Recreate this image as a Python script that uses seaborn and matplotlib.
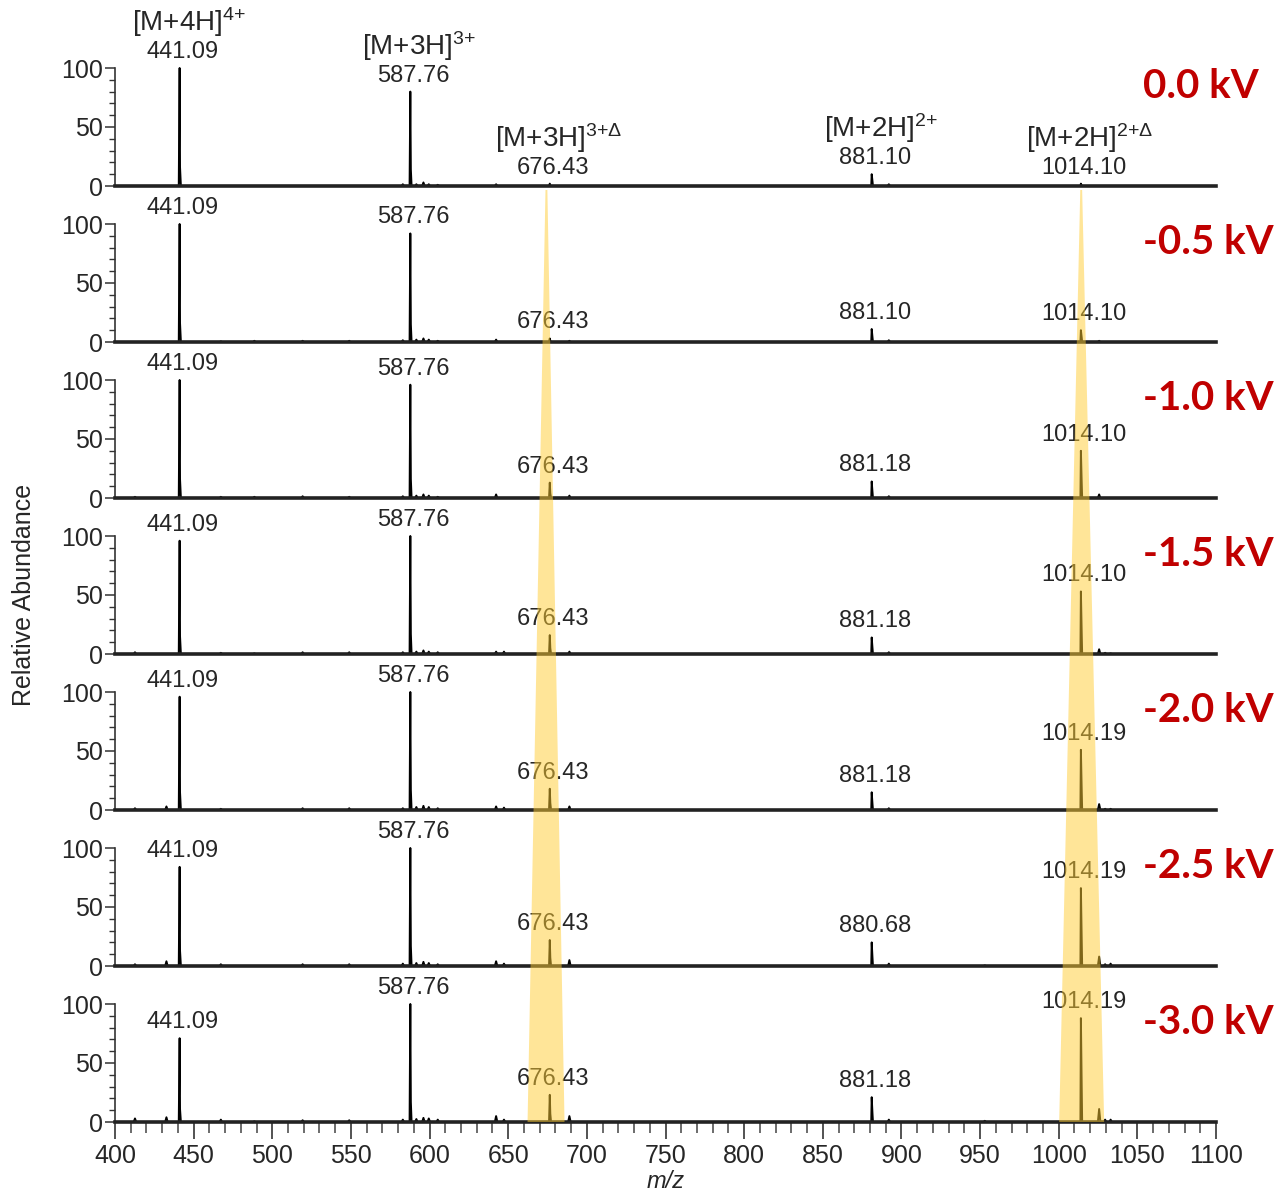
import numpy as np
import pandas as pd
import seaborn as sns
import matplotlib.pyplot as plt
from matplotlib.patches import Polygon
from matplotlib.transforms import blended_transform_factory

# spray voltages, one panel each (top to bottom)
voltages = ["0.0 kV", "-0.5 kV", "-1.0 kV", "-1.5 kV", "-2.0 kV", "-2.5 kV", "-3.0 kV"]

# main peaks (m/z) and their relative abundance in each panel
main_mz = [441.09, 587.76, 676.43, 881.10, 1014.10]
h_441 = [100, 100, 100, 96, 96, 84, 71]
h_587 = [80, 92, 96, 100, 100, 100, 100]
h_676 = [2, 3, 13, 16, 18, 22, 23]
h_881 = [10, 11, 14, 14, 15, 20, 21]
h_1014 = [2, 10, 40, 53, 51, 66, 88]

# isotope shoulders next to each main peak
iso_mz = [441.34, 588.09, 676.76, 881.60, 1014.60]
iso_441 = [16, 16, 16, 15, 15, 13, 11]
iso_587 = [14, 15, 16, 17, 17, 17, 17]
iso_676 = [0.5, 1, 4, 5, 6, 7, 7]
iso_881 = [4, 4, 5, 5, 5, 7, 7]
iso_1014 = [0.5, 4, 14, 19, 18, 24, 32]

# small background peaks
minor_mz = [412.7, 432.7, 467.3, 488.6, 519.3, 548.9, 583.0, 591.6, 596.1, 599.5,
            605.2, 642.3, 647.3, 688.9, 892.0, 953.0, 1025.7, 1029.5, 1033.0]
minor_h = [
    [0, 0, 0, 0, 0, 0, 1.5, 1.5, 3, 1.5, 1, 1.5, 0, 0, 1.5, 0, 0, 0, 0],
    [0, 0, 0.5, 1, 1, 1, 1.5, 2, 3, 2, 1, 2, 0, 1, 1.5, 0, 1, 0, 0],
    [1, 0, 1, 1, 1.5, 1, 1.5, 2, 3, 2, 1, 3, 0, 2, 1.5, 0, 3, 0, 0],
    [1.5, 0, 1, 0.5, 1.5, 1.5, 1.5, 2, 3, 2, 1.5, 2, 2, 2, 1.5, 0, 4, 1, 0.5],
    [1.5, 3, 1, 0, 1.5, 1.5, 1.5, 2.5, 3.5, 2.5, 1.5, 3, 2, 3, 1.5, 0, 5, 1, 1],
    [1.5, 4, 1.5, 0, 1.5, 1.5, 2, 2.5, 3.5, 2.5, 1.5, 4, 2, 5, 2, 0.5, 8, 1.5, 2],
    [3, 4, 2, 0.5, 1.5, 1.5, 2, 2.5, 3.5, 3, 2, 5, 2, 5, 2, 1, 11, 2, 2],
]

# peak labels shown in each panel
lab_441 = ["441.09"] * 7
lab_587 = ["587.76"] * 7
lab_676 = ["676.43"] * 7
lab_881 = ["881.10", "881.10", "881.18", "881.18", "881.18", "880.68", "881.18"]
lab_1014 = ["1014.10", "1014.10", "1014.10", "1014.10", "1014.19", "1014.19", "1014.19"]

ion_labels = ["[M+4H]$^{4{+}}$", "[M+3H]$^{3{+}}$", "[M+3H]$^{3{+}\\Delta}$",
              "[M+2H]$^{2{+}}$", "[M+2H]$^{2{+}\\Delta}$"]

# highlighted bands (apex m/z, base from, base to)
band_apex = [674.3, 1014.3]
band_lo = [662.3, 1000.3]
band_hi = [685.8, 1028.9]

heights = [h_441, h_587, h_676, h_881, h_1014]
iso_heights = [iso_441, iso_587, iso_676, iso_881, iso_1014]
labels = [lab_441, lab_587, lab_676, lab_881, lab_1014]

sns.set_theme(style="white")
plt.rcParams["font.family"] = ["Liberation Sans", "DejaVu Sans"]
plt.rcParams["mathtext.fontset"] = "custom"
plt.rcParams["mathtext.rm"] = "Liberation Sans"
plt.rcParams["mathtext.it"] = "Liberation Sans:italic"
plt.rcParams["mathtext.bf"] = "Liberation Sans:bold"

W, H = 1278, 1197
fig = plt.figure(figsize=(W / 100, H / 100), dpi=100)

left_px, right_px = 115, 1216
panel_px = 156
last_base = 1122
half_w = 0.8

axes = []
for i, v in enumerate(voltages):
    base = last_base - panel_px * (len(voltages) - 1 - i)
    ax = fig.add_axes([left_px / W, 1 - base / H, (right_px - left_px) / W, panel_px / H])
    ax.set_facecolor("none")
    axes.append(ax)

    # build a stick/profile spectrum from the peak lists
    mz, ab = [400.0, 1100.0], [0.0, 0.0]
    peaks = list(zip(main_mz, [h[i] for h in heights]))
    peaks += list(zip(iso_mz, [h[i] for h in iso_heights]))
    peaks += [(m, h) for m, h in zip(minor_mz, minor_h[i]) if h > 0]
    for m, h in peaks:
        mz += [m - half_w, m, m + half_w]
        ab += [0.0, h, 0.0]
    df = pd.DataFrame({"mz": mz, "ab": ab})
    sns.lineplot(data=df, x="mz", y="ab", ax=ax, estimator=None, color="black",
                 linewidth=1.4)

    ax.set_xlim(400, 1100)
    ax.set_ylim(0, panel_px / 1.18)
    ax.set_xlabel("")
    ax.set_ylabel("")

    for spine in ["top", "right"]:
        ax.spines[spine].set_visible(False)
    ax.spines["left"].set_bounds(0, 100)
    ax.spines["left"].set_linewidth(1.2)
    ax.spines["left"].set_color("#333333")
    ax.spines["bottom"].set_linewidth(2.6)
    ax.spines["bottom"].set_color("#222222")

    ax.set_yticks([0, 50, 100])
    ax.set_yticks(np.arange(0, 101, 10), minor=True)
    ax.tick_params(axis="y", which="major", left=True, length=7, width=1.1,
                   color="#333333", labelsize=18, pad=1.5)
    ax.tick_params(axis="y", which="minor", left=True, length=4.5, width=1.0,
                   color="#333333")

    # peak value labels
    for m, h, lab in zip(main_mz, heights, labels):
        ax.annotate(lab[i], (m, h[i]), xytext=(3, 5), textcoords="offset pixels",
                    ha="center", va="bottom", fontsize=17, annotation_clip=False)
    if i == 0:
        for m, h, ion in zip(main_mz, heights, ion_labels):
            ax.annotate(ion, (m, h[i]), xytext=(9, 29), textcoords="offset pixels",
                        ha="center", va="bottom", fontsize=20, annotation_clip=False)

    ax.text(0.934, 0.64, v, transform=ax.transAxes, ha="left", va="center",
            fontsize=29, fontweight="bold", color="#C00000", family="Lato")

for ax in axes[:-1]:
    ax.set_xticks([])

bottom = axes[-1]
bottom.set_xticks(np.arange(400, 1101, 50))
bottom.set_xticks(np.arange(400, 1101, 10), minor=True)
bottom.tick_params(axis="x", which="major", bottom=True, length=12, width=1.3,
                   color="#444444", labelsize=18, pad=4)
bottom.tick_params(axis="x", which="minor", bottom=True, length=8, width=1.1,
                   color="#444444")
bottom.set_xlabel("m/z", style="italic", fontsize=17, labelpad=1)

fig.text(0.019, 0.503, "Relative Abundance", rotation=90, ha="center", va="center",
         fontsize=18)

# yellow tapering bands across panels 2-7
y_top = axes[0].get_position().y0 - 4 / H
y_bot = axes[-1].get_position().y0
trans = blended_transform_factory(bottom.transData, fig.transFigure)
for apex, lo, hi in zip(band_apex, band_lo, band_hi):
    poly = Polygon([(apex - 0.6, y_top), (apex + 0.6, y_top), (hi, y_bot), (lo, y_bot)],
                   closed=True, transform=trans, facecolor="#FFCC33", alpha=0.5,
                   edgecolor="none", zorder=5)
    fig.add_artist(poly)

fig.savefig("out.png", dpi=100)
